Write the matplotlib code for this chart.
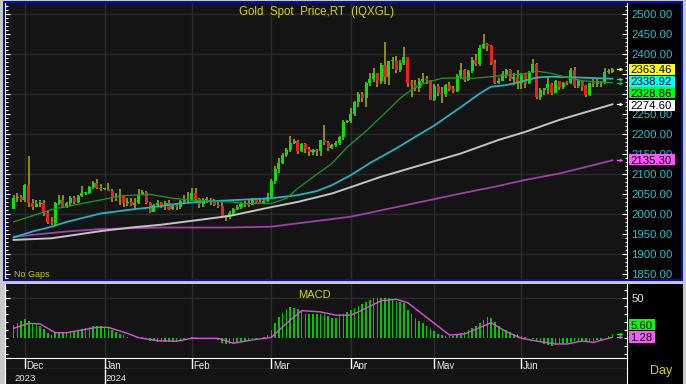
import numpy as np
import matplotlib
matplotlib.use('Agg')
import matplotlib.pyplot as plt
from matplotlib.patches import Rectangle

# daily bars, 28 Nov 2023 .. 5 Jul 2024 (weekdays)
opens = [2013,2041,2044,2036,2072,2029,2019,2025,2029,2004,
         1981,1979,2027,2036,2019,2027,2040,2031,2045,2053,
         2053,2067,2077,2065,2063,2063,2059,2042,2043,2045,
         2027,2030,2024,2029,2049,2055,2028,2006,2023,2029,
         2021,2029,2014,2020,2018,2032,2037,2039,2054,2039,
         2025,2035,2035,2034,2024,2020,1992,1992,2004,2013,
         2018,2025,2025,2024,2035,2031,2029,2034,2044,2083,
         2114,2128,2148,2160,2179,2182,2158,2175,2162,2155,
         2160,2157,2186,2181,2165,2172,2179,2194,2230,2233,
         2251,2280,2300,2290,2329,2339,2352,2333,2372,2344,
         2383,2383,2361,2379,2392,2327,2322,2316,2332,2337,
         2335,2286,2320,2303,2301,2323,2314,2309,2346,2360,
         2336,2358,2385,2376,2415,2425,2420,2379,2329,2334,
         2351,2361,2338,2343,2327,2350,2327,2355,2375,2294,
         2311,2316,2325,2303,2333,2319,2329,2328,2360,2321,
         2334,2320,2298,2327,2326,2332,2330,2356,2356]
highs = [2048,2052,2047,2075,2146,2037,2035,2035,2035,2008,
         1992,2030,2048,2047,2030,2046,2046,2048,2071,2056,
         2070,2084,2088,2075,2065,2079,2064,2052,2064,2046,
         2040,2040,2040,2062,2060,2059,2031,2026,2035,2031,
         2032,2036,2023,2027,2036,2049,2056,2065,2066,2041,
         2040,2043,2041,2039,2032,2031,1998,2009,2015,2022,
         2031,2033,2035,2041,2038,2038,2040,2053,2088,2120,
         2141,2152,2165,2195,2189,2185,2178,2177,2168,2164,
         2163,2186,2223,2183,2176,2184,2196,2236,2236,2266,
         2282,2305,2305,2330,2354,2365,2354,2378,2431,2384,
         2392,2395,2385,2417,2392,2335,2335,2340,2353,2345,
         2336,2326,2326,2319,2326,2330,2320,2351,2378,2364,
         2360,2392,2400,2422,2450,2427,2422,2385,2340,2358,
         2364,2363,2352,2360,2354,2354,2359,2387,2378,2315,
         2316,2342,2327,2336,2334,2331,2334,2365,2369,2337,
         2335,2323,2329,2339,2339,2334,2365,2363,2366]
lows = [2012,2031,2031,2030,2018,2010,2017,2018,1995,1976,
        1974,1973,2022,2015,2016,2020,2026,2029,2042,2049,
        2051,2062,2062,2058,2060,2057,2030,2033,2024,2017,
        2021,2021,2014,2026,2047,2026,2002,2005,2019,2015,
        2011,2011,2010,2010,2012,2026,2030,2033,2030,2015,
        2018,2028,2023,2021,2015,1990,1984,1987,1995,2010,
        2013,2019,2018,2022,2026,2025,2025,2031,2039,2076,
        2104,2125,2142,2155,2175,2150,2156,2152,2146,2148,
        2146,2146,2174,2157,2162,2168,2173,2186,2228,2229,
        2246,2269,2280,2268,2321,2330,2319,2325,2326,2324,
        2364,2353,2356,2372,2318,2292,2307,2305,2327,2326,
        2285,2282,2295,2278,2293,2308,2303,2306,2339,2331,
        2333,2354,2370,2371,2413,2407,2374,2326,2325,2332,
        2340,2334,2323,2314,2314,2315,2326,2352,2287,2286,
        2298,2300,2297,2302,2311,2312,2324,2326,2316,2316,
        2309,2293,2296,2319,2319,2318,2326,2351,2353]
closes = [2041,2044,2036,2072,2029,2019,2025,2029,2004,1981,
          1979,2027,2036,2019,2027,2040,2031,2045,2053,2053,
          2067,2077,2065,2063,2063,2059,2042,2043,2045,2027,
          2030,2024,2029,2049,2055,2028,2006,2023,2029,2021,
          2029,2014,2020,2018,2032,2037,2039,2054,2039,2025,
          2035,2035,2034,2024,2020,1992,1992,2004,2013,2018,
          2025,2025,2024,2035,2031,2029,2034,2044,2083,2114,
          2128,2148,2160,2179,2182,2158,2175,2162,2155,2160,
          2157,2186,2181,2165,2172,2179,2194,2230,2233,2251,
          2280,2300,2290,2329,2339,2352,2333,2372,2344,2383,
          2383,2361,2379,2392,2327,2322,2316,2332,2337,2335,
          2286,2320,2303,2301,2323,2314,2309,2346,2360,2336,
          2358,2385,2376,2415,2425,2420,2379,2329,2334,2351,
          2361,2338,2343,2327,2350,2327,2355,2375,2294,2311,
          2316,2325,2303,2333,2319,2329,2328,2360,2321,2334,
          2320,2298,2327,2326,2332,2330,2356,2356,2363.46]

# moving averages (bar index, value)
ma20_x = [0,10,23,28,36,42,49,57,61,68,72,75,80,84,88,93,97,102,105,109,113,117,121,125,130,134,138,142,146,150,154,158]
ma20 = [1981,2012,2036,2046,2050,2040,2034,2031,2027,2027,2040,2065,2100,2127,2168,2208,2244,2290,2312,2330,2340,2341,2340,2343,2348,2350,2358,2352,2342,2334,2331,2329]
ma50_x = [0,5,10,14,23,32,36,43,49,57,68,75,80,84,89,94,101,105,108,111,118,123,126,130,134,138,142,149,155,158]
ma50 = [1942,1957,1969,1981,2002,2013,2017,2026,2031,2035,2040,2048,2058,2073,2098,2128,2165,2188,2205,2222,2268,2302,2319,2323,2332,2342,2344,2342,2340,2339]
ma100_x = [0,10,23,31,39,49,57,68,75,84,89,97,106,118,128,135,144,153,158]
ma100 = [1936,1940,1958,1967,1974,1986,1996,2018,2031,2052,2068,2094,2119,2152,2186,2206,2236,2261,2275]
ma200_x = [0,14,23,39,57,68,78,89,99,110,118,127,135,144,153,158]
ma200 = [1944,1957,1963,1967,1967,1969,1981,1994,2014,2036,2052,2069,2086,2102,2123,2135]

macd = [16.6,19.6,22,24,21.7,19.6,17.9,15.8,11.2,7,
        4.1,6.2,7,7,7,8.3,8.3,9.6,11.2,13.3,
        14.6,15.8,15.8,15.8,14.1,12.9,10.4,7.5,5.4,4.1,
        2,0.8,0.8,1.2,1.2,-1.2,-3,-3.7,-4.1,-4.1,
        -4.1,-4.6,-4.6,-3,-2,-0.8,0.3,2,1.2,0.8,
        0.5,0.5,0.2,-0.4,-2,-5.4,-7,-7,-6.2,-5,
        -4.1,-3,-2,-1.2,-0.8,0.2,2,4,11,19.6,
        26.2,31.2,36.2,38.7,37.5,37,34,31,31,30,
        30,31,30,28,26,26,29,31,33,35,
        38,41,43,46,48,50,50,51,50,50,
        49,47,46,44,36,30,26,22,19,16,
        12,9,6,4,3.5,3,3.5,5,7,8,
        10,13,15,19,23,27,25,20,16,12,
        10,8,6,5,3,1.5,0.5,-1,-3,-5,
        -6.5,-8.5,-9,-8.5,-7.5,-6.5,-5.5,-4.5,-3.5,-3,
        -3,-3.5,-3.7,-3.5,-2.5,-1.5,0.5,3,5.6]
sig_x = [0,4,7,11,14,17,22,25,30,33,38,43,47,54,58,63,68,72,76,81,85,89,91,97,101,104,111,115,119,126,130,134,139,143,146,150,153,156,158]
sig = [12.5,18.7,18,7,7,9.6,13.7,13.7,6.2,0.8,-3,-3.7,0,0,-6.2,-2,1.2,18.7,34.6,33,29,29,33,47,48.7,44.5,18.7,4.1,5.4,19.5,8.3,0,-4.2,-7.1,-7.1,-3.4,-5,-1.2,1.28]

months = ['Dec','Jan','Feb','Mar','Apr','May','Jun']
month_x = [3,24,47,68,89,111,134]
years = ['2023','2024']
year_x = [0,24]
price_tags = ['2363.46','2338.92','2328.86','2274.60','2135.30']
price_last = [2363.46, 2338.92, 2328.86, 2274.60, 2135.30]
macd_tags = ['5.60','1.28']
macd_last = [5.60, 1.28]
hidden_ticks = [2300, 2350]   # covered by the value tags on the right

plt.rcParams['font.family'] = ['Liberation Sans', 'DejaVu Sans']
W, H = 686, 384
fig = plt.figure(figsize=(W/100, H/100), dpi=100, facecolor='#c8c8c8')
BG, GRID = '#141414', '#2c2c2c'
YEL = '#d8d800'

def pbox(x0, y0, x1, y1):
    return [x0/W, 1-y1/H, (x1-x0)/W, (y1-y0)/H]

def rect(x0, y0, x1, y1, **kw):
    fig.patches.append(Rectangle((x0/W, 1-y1/H), (x1-x0)/W, (y1-y0)/H,
                                 transform=fig.transFigure, **kw))

def txt(x, y, s, **kw):
    fig.text(x/W, 1-y/H, s, **kw)

def arrow(ax, v, col):
    ax.plot([159.1, 160.3], [v, v], color=col, lw=0.9, clip_on=False, zorder=6)
    ax.plot([160.3], [v], marker='>', ms=2.6, color=col, mew=0, clip_on=False, zorder=6)

# black label strips on the right
rect(627, 3, 682, 280, facecolor='black', lw=0, zorder=-1)
rect(627, 284, 683, 384, facecolor='black', lw=0, zorder=-1)

X0, X1 = -2.27, 161.85
ax1 = fig.add_axes(pbox(5, 3, 627, 279), facecolor=BG)
ax2 = fig.add_axes(pbox(5, 284, 627, 358), facecolor=BG)
axm = fig.add_axes(pbox(5, 358, 627, 369), facecolor=BG)
axy = fig.add_axes(pbox(5, 369, 627, 384), facecolor=BG)

# ---- price panel
o, h, l, c = map(np.array, (opens, highs, lows, closes))
i = np.arange(len(c))
up = c >= o
for v in range(1900, 2501, 100):
    ax1.axhline(v, color=GRID, lw=1, zorder=0.5)
for m in month_x:
    ax1.axvline(m, color=GRID, lw=1, zorder=0.5)
ax1.vlines(i, l, h, color='#b0b000', lw=1.1, zorder=3)
ax1.bar(i, np.maximum(abs(c-o), 2), bottom=np.minimum(o, c), width=0.8,
        color=np.where(up, '#00e600', '#f01e1e'), lw=0, zorder=4)
ax1.plot(ma200_x, ma200, color='#a040a8', lw=1.3, zorder=5)
ax1.plot(ma100_x, ma100, color='#c4c4c4', lw=1.4, zorder=5)
ax1.plot(ma50_x, ma50, color='#1fb5c5', lw=1.3, zorder=5)
ax1.plot(ma20_x, ma20, color='#1a9e1a', lw=0.9, zorder=5)
ax1.set_xlim(X0, X1)
ax1.set_ylim(1838.25, 2528.25)
ax1.set_xticks([])
ax1.set_yticks(np.arange(1850, 2501, 50))
ax1.set_yticks(np.arange(1840, 2521, 10), minor=True)
ax1.yaxis.set_major_formatter(lambda v, p: '' if round(v) in hidden_ticks else f'{v:.2f}')
ax1.yaxis.set_ticks_position('both')
ax1.tick_params(axis='y', which='both', direction='in', color='white', width=0.8,
                labelleft=False, labelright=True, labelcolor='#22c4d0',
                labelsize=8.2, pad=3)
ax1.tick_params(axis='y', which='major', length=3.5)
ax1.tick_params(axis='y', which='minor', length=1.8)
for s in ('top', 'bottom'):
    ax1.spines[s].set_visible(False)
for s in ('left', 'right'):
    ax1.spines[s].set_color('white')

tag_cols = ['#ffff00', '#00ffff', '#00ff00', '#ffffff', '#ff55ff']
arrow_cols = ['#ffff00', '#00e0e0', '#00e000', '#ffffff', '#ff55ff']
tag_y = [(63.5, 75), (76, 86.7), (87.3, 98.3), (100, 110.7), (154, 165)]
for s, v, fc, ac, (ya, yb) in zip(price_tags, price_last, tag_cols, arrow_cols, tag_y):
    arrow(ax1, v, ac)
    rect(629, ya, 675, yb, facecolor=fc, lw=0, zorder=4)
    txt(630.5, (ya+yb)/2 + 4.1, s, color='black', fontsize=8.2, va='baseline', zorder=5)

# ---- MACD panel
ax2.axhline(50, color=GRID, lw=1, zorder=0.5)
for m in month_x:
    ax2.axvline(m, color=GRID, lw=1, zorder=0.5)
ax2.bar(i, macd, width=0.42, color='#00c800', lw=0, zorder=3)
ax2.plot(sig_x, sig, color='#e050e0', lw=1, zorder=4)
ax2.set_xlim(X0, X1)
ax2.set_ylim(-24.6, 67.9)
ax2.set_xticks([])
ax2.set_yticks([50])
ax2.set_yticks(np.arange(-20, 61, 10), minor=True)
ax2.yaxis.set_ticks_position('both')
ax2.tick_params(axis='y', which='both', direction='in', color='white', width=0.8,
                labelleft=False, labelright=True, labelcolor='#e8e8e8',
                labelsize=8.2, pad=3)
ax2.tick_params(axis='y', which='major', length=3.5)
ax2.tick_params(axis='y', which='minor', length=2.2)
for s in ('top', 'bottom'):
    ax2.spines[s].set_visible(False)
for s in ('left', 'right'):
    ax2.spines[s].set_color('white')
for s, v, fc, (ya, yb) in zip(macd_tags, macd_last, ['#00ff00', '#ff55ff'],
                              [(319.3, 330), (330.7, 342.7)]):
    arrow(ax2, v, fc)
    rect(629, ya, 655, yb, facecolor=fc, lw=0, zorder=4)
    txt(630.5, (ya+yb)/2 + 4.1, s, color='black', fontsize=8.2, va='baseline', zorder=5)

# ---- date rows
for ax in (axm, axy):
    ax.set_xlim(X0, X1)
    ax.set_ylim(0, 1)
    ax.set_xticks([])
    ax.set_yticks([])
    for s in ax.spines.values():
        s.set_color('white')
axy.spines['bottom'].set_visible(False)
axy.spines['top'].set_visible(False)
axm.vlines(month_x, 0, 1, color='white', lw=1)
for name, m in zip(months, month_x):
    axm.text(m + 0.45, -0.04, name, color='#e8e8e8', fontsize=7, va='baseline', clip_on=True)
axy.vlines(year_x[1:], 0, 1, color='white', lw=1)
for name, m in zip(years, year_x):
    axy.text(m + 0.2, 0.17, name, color='#e8e8e8', fontsize=6.8, va='baseline')

# ---- captions and frame
txt(239, 14.5, 'Gold  Spot  Price,RT  (IQXGL)', color=YEL, fontsize=8.3, va='baseline')
txt(14, 277, 'No Gaps', color='#c8c800', fontsize=6.5, va='baseline')
txt(298, 297.5, 'MACD', color=YEL, fontsize=8, va='baseline')
txt(650, 374, 'Day', color=YEL, fontsize=9, va='baseline')
rect(3.6, 1.8, 682, 280, fill=False, edgecolor='#0010c0', lw=1.45, zorder=6)

fig.savefig('out.png', dpi=100, facecolor=fig.get_facecolor())
